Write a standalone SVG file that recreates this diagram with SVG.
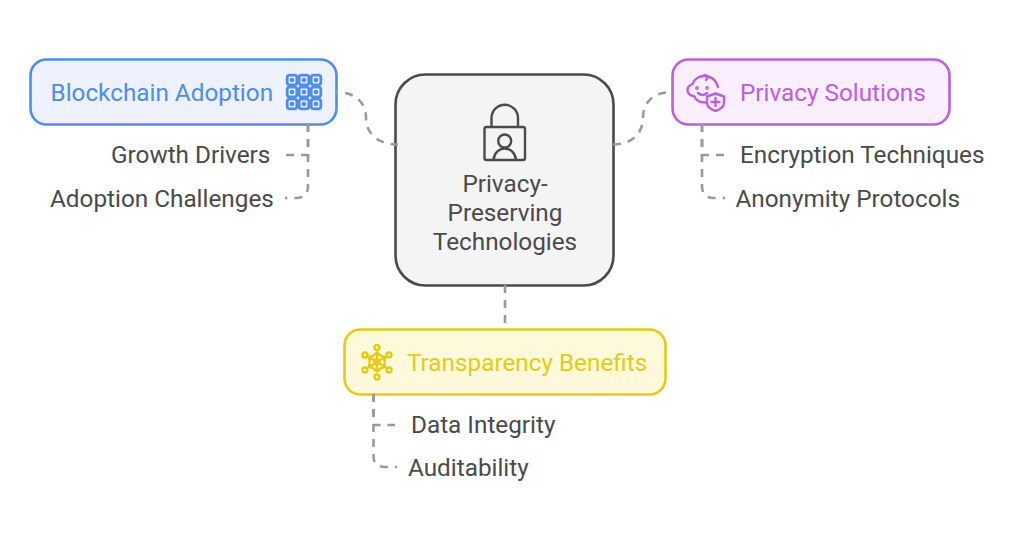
<svg xmlns="http://www.w3.org/2000/svg" width="1024" height="542" viewBox="0 0 1024 542">
<style>
text{font-family:Roboto,"Liberation Sans",sans-serif;font-size:24.3px;fill:#4a4a4a}
.box{stroke-width:2.6}
.c{fill:none;stroke:#9a9a9a;stroke-width:2.6;stroke-dasharray:8 7}
.ic{fill:none;stroke-width:2.4;stroke-linecap:round;stroke-linejoin:round}
</style>
<defs>
<g id="cell"><rect x="-4.800" y="-4.800" width="9.600" height="9.600" rx="2" fill="none" stroke-width="2.800"/><circle r="2.300" fill="currentColor" stroke="none"/></g>
</defs>
<rect width="1024" height="542" fill="#fff"/>
<g id="node-center">
<rect class="box" x="395.500" y="74.500" width="218" height="211" rx="30" fill="#f4f4f4" stroke="#4a4a4a"/>
<g class="ic" stroke="#4a4a4a">
<path d="M491.500 127V118A13.200 13.200 0 0 1 518 118V127"/>
<rect x="484.500" y="127" width="40.500" height="33" rx="2"/>
<circle cx="504.700" cy="141" r="6.500"/>
<path d="M493.500 159.500C494.500 152 500 148.500 504.700 148.500C509.500 148.500 515 152 516 159.500"/>
</g>
<text x="505" y="192" text-anchor="middle">Privacy-</text>
<text x="505" y="221" text-anchor="middle">Preserving</text>
<text x="505" y="250" text-anchor="middle">Technologies</text>
</g>
<g id="node-blockchain">
<rect class="box" x="30.500" y="59.500" width="306" height="65" rx="16" fill="#edf2fe" stroke="#4e8cef"/>
<text x="50.500" y="101" style="fill:#4e8cef">Blockchain Adoption</text>
<g stroke="#4e8cef" color="#4e8cef">
<use href="#cell" x="292" y="80"/><use href="#cell" x="304" y="80"/><use href="#cell" x="316" y="80"/>
<use href="#cell" x="292" y="92"/><use href="#cell" x="304" y="92"/><use href="#cell" x="316" y="92"/>
<use href="#cell" x="292" y="104"/><use href="#cell" x="304" y="104"/><use href="#cell" x="316" y="104"/>
</g>
</g>
<g id="node-privacy">
<rect class="box" x="672.500" y="59.500" width="277" height="65" rx="16" fill="#f9effe" stroke="#bb5ee6"/>
<text x="740" y="101" style="fill:#bb5ee6">Privacy Solutions</text>
<g class="ic" stroke="#bb5ee6">
<path d="M706 102.500C700 103 696 100 694 96C690 96 687.500 93 687.500 90C687.500 87 690 85 692.500 84C694 79 699 76 704 76C711 76 716 80 718 87"/>
<path d="M703 76C706 74 709 77 706 80"/>
<path d="M698 93Q702.500 97 707 93"/>
<circle cx="697" cy="88" r=".7"/><circle cx="707" cy="88" r=".7"/>
<path d="M715.500 93.500L724 96.500V103C724 107 720 109.500 715.500 111C711 109.500 707 107 707 103V96.500Z"/>
<path d="M715.500 98V106M711.500 102H719.500"/>
</g>
</g>
<g id="node-transparency">
<rect class="box" x="344.500" y="329.500" width="321" height="65" rx="16" fill="#fef9da" stroke="#e5cb14"/>
<text x="407" y="371" style="fill:#e5cb14">Transparency Benefits</text>
<g class="ic" stroke="#e5cb14">
<circle cx="377" cy="347.500" r="2.500"/><circle cx="377" cy="377" r="2.500"/>
<circle cx="365" cy="355" r="2.500"/><circle cx="389" cy="355" r="2.500"/>
<circle cx="365" cy="370" r="2.500"/><circle cx="389" cy="370" r="2.500"/>
<path d="M377 353V371M369.500 357.500L384.500 366.500M384.500 357.500L369.500 366.500"/>
<path d="M374 355L377 352.500L380 355M374 369L377 371.500L380 369M369.500 361L369 357L373 356M381 356L385 357L384.500 361M369.500 363L369 367L373 368M381 368L385 367L384.500 363"/>
<circle cx="377" cy="362" r="2.500"/>
</g>
</g>
<g id="leaf-growth"><text x="111" y="163">Growth Drivers</text></g>
<g id="leaf-challenges"><text x="50" y="207">Adoption Challenges</text></g>
<g id="leaf-encryption"><text x="740" y="163">Encryption Techniques</text></g>
<g id="leaf-anonymity"><text x="735.500" y="207">Anonymity Protocols</text></g>
<g id="leaf-integrity"><text x="411" y="433">Data Integrity</text></g>
<g id="leaf-auditability"><text x="408" y="476">Auditability</text></g>
<g id="connectors">
<path class="c" stroke-dashoffset="5" d="M335 92C357 92 366 104 366 118C366 132 376 144.500 398 144.500"/>
<path class="c" d="M613 144.500C633 144.500 643 132 643 118C643 104 651 92 673 92"/>
<path class="c" d="M505 285V323"/>
<path class="c" d="M308 124V186Q308 198 296 198H285"/>
<path class="c" d="M308 124V155H286"/>
<path class="c" d="M702 124V186Q702 198 714 198H725"/>
<path class="c" d="M702 124V155H724"/>
<path class="c" d="M373.500 394V456Q373.500 467 385 467H397"/>
<path class="c" d="M373.500 394V425H395"/>
</g>
</svg>
